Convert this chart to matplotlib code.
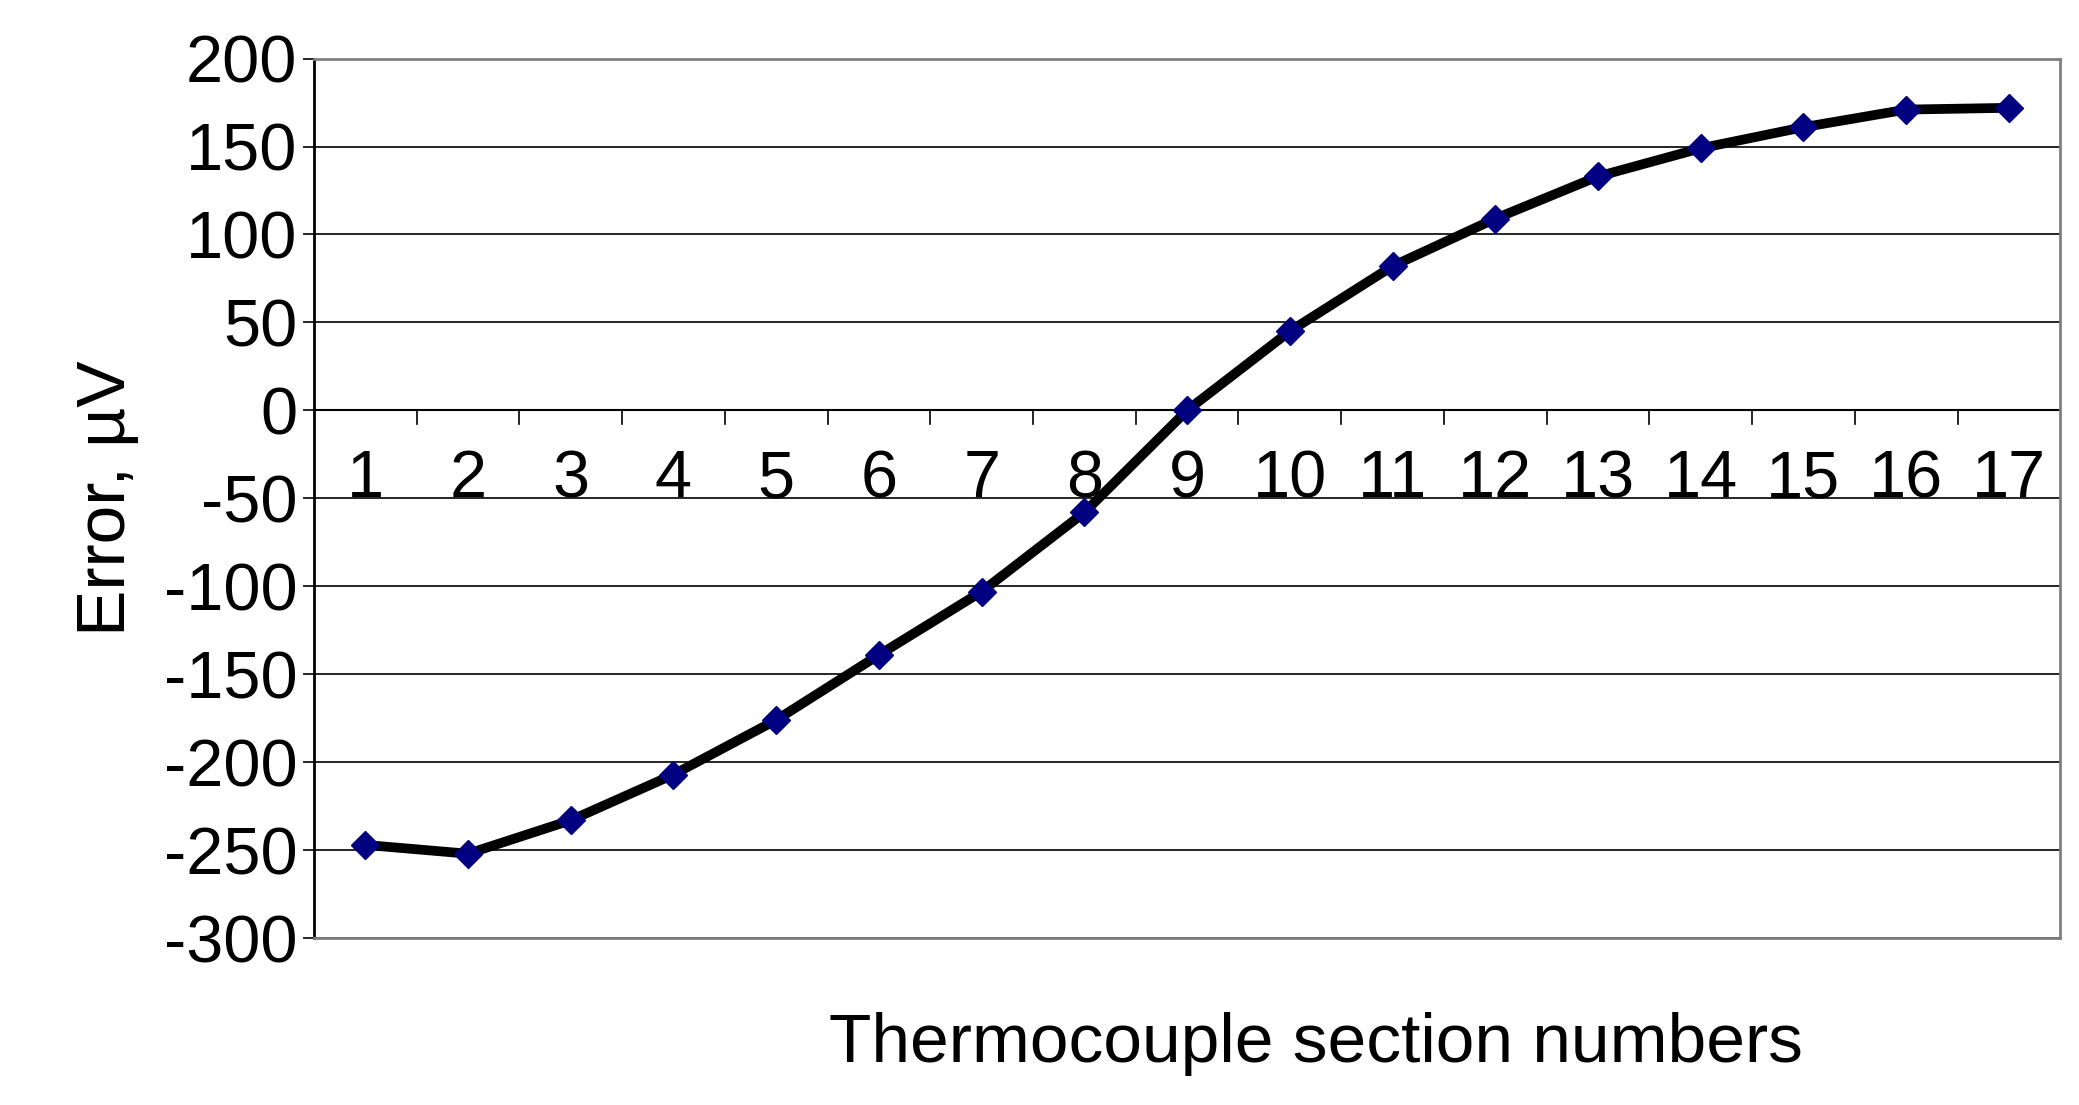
import matplotlib
matplotlib.use("Agg")
import matplotlib.pyplot as plt

sections = list(range(1, 18))
errors = [-247, -252, -233, -207, -176, -139, -103, -58, 0, 45, 82, 109, 133, 149, 161, 171, 172]
yticks = list(range(-300, 201, 50))

plt.rcParams['font.family'] = ['Liberation Sans', 'DejaVu Sans']
plt.rcParams['axes.unicode_minus'] = False
fig = plt.figure(figsize=(20.79, 11.05), dpi=100)
ax = fig.add_axes([0.151, 0.151, 0.840, 0.796])
ax.plot(sections, errors, color='black', lw=7, zorder=3)
ax.plot(sections, errors, ls='none', marker='D', ms=14, color='#000080', zorder=4)
ax.set_xlim(0.5, 17.5)
ax.set_ylim(-300, 200)
ax.set_yticks(yticks)
ax.set_yticklabels([str(y) for y in yticks])
ax.tick_params(axis='y', labelsize=48, length=8, width=1.2, direction='out', pad=4)
for y in yticks:
    ax.axhline(y, color='black', lw=1.2, zorder=1)
ax.axhline(0, color='black', lw=1.5, zorder=2)
ax.set_xticks([])
for b in range(1, 17):
    xb = b + 0.5
    ax.plot([xb, xb], [0, -8], color='black', lw=1.2, zorder=2)
for s in sections:
    ax.text(s, -22, str(s), ha='center', va='top', fontsize=48, zorder=5)
for sp in ax.spines.values():
    sp.set_color('#808080')
    sp.set_linewidth(2)
ax.spines['left'].set_color('black')
ax.set_ylabel('Error, µV', fontsize=50, labelpad=18)
fig.text(0.633, 0.055, 'Thermocouple section numbers', ha='center', va='center', fontsize=50)
fig.savefig('out.png', dpi=100)
